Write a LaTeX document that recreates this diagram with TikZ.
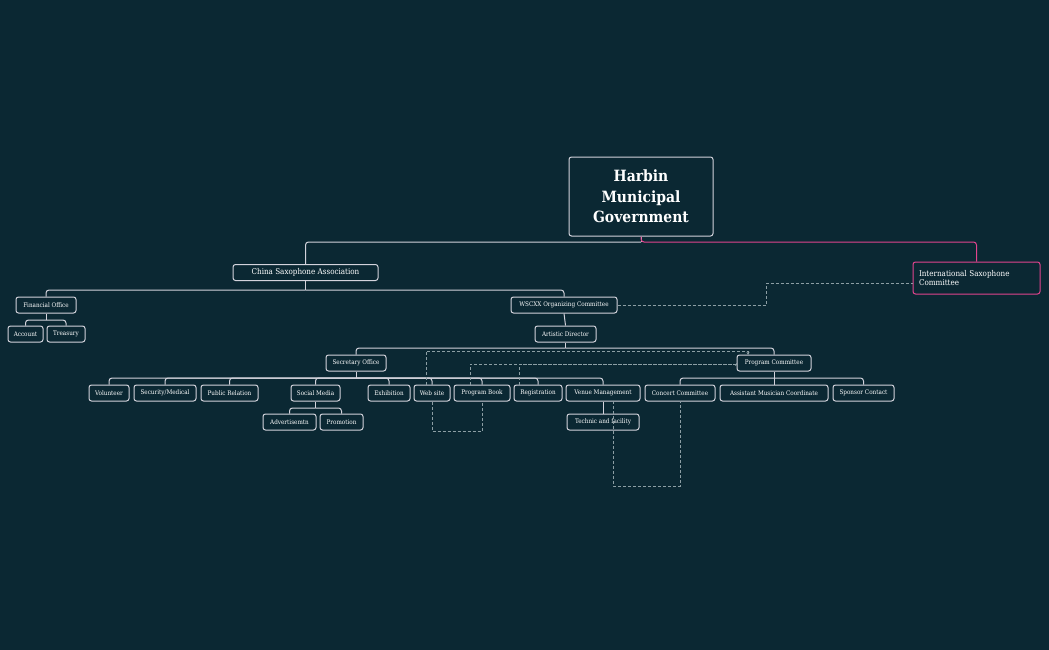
\documentclass[tikz,border=0pt]{standalone}
\usepackage{fontspec}
\setmainfont{DejaVu Serif Condensed}
\usetikzlibrary{arrows.meta}
\definecolor{bg}{HTML}{0B2833}
\definecolor{ln}{HTML}{D3D3DC}
\definecolor{pk}{HTML}{E2448E}
\definecolor{ds}{HTML}{8C9EA4}
\tikzset{
 box/.style={draw=ln, line width=1pt, rounded corners=2.5pt, fill=bg, text=white, inner sep=0pt, font=\fontsize{6.3}{7}\selectfont},
 edge/.style={draw=ln, line width=1pt, rounded corners=3pt},
 dashln/.style={draw=ds, line width=0.8pt, dash pattern=on 3pt off 2pt},
}
\newcommand{\bx}[6][]{\node[box,#1, minimum width=#5pt, minimum height=16pt] (#2) at (#3,#4) {#6};}
\begin{document}
\begin{tikzpicture}[x=1pt,y=-1pt]
\fill[bg] (0,0) rectangle (1049,650);
\useasboundingbox (0,0) rectangle (1049,650);
\node[box, minimum width=144pt, minimum height=79pt, align=center, font=\fontsize{15.5}{20.5}\selectfont\bfseries] (h) at (641,196.5) {Harbin\\Municipal\\Government};
\bx[minimum height=21pt, font=\fontsize{8}{9}\selectfont]{csa}{305.5}{272.5}{145}{China Saxophone Association}
\node[box, draw=pk, minimum width=127pt, minimum height=32pt, align=left, text width=115pt, font=\fontsize{8}{9.5}\selectfont] (isc) at (976.5,278) {International Saxophone\\Committee};
\bx{fin}{46}{305}{60}{Financial Office}
\bx{acc}{25.5}{334}{35}{Account}
\bx{tre}{66}{334}{38}{Treasury}
\bx{ws}{564}{305}{106}{WSCXX Organizing Committee}
\bx{ad}{565.5}{334}{61}{Artistic Director}
\bx{so}{356}{363}{60}{Secretary Office}
\bx{pc}{774}{363}{74}{Program Committee}
\bx{vol}{109}{393}{40}{Volunteer}
\bx{sec}{165}{393}{62}{Security/Medical}
\bx{pr}{229.5}{393}{57}{Public Relation}
\bx{sm}{315.5}{393}{49}{Social Media}
\bx{ex}{389}{393}{42}{Exhibition}
\bx{web}{432}{393}{36}{Web site}
\bx{pb}{482}{393}{56}{Program Book}
\bx{reg}{538}{393}{48}{Registration}
\bx{vm}{603}{393}{74}{Venue Management}
\bx{cc}{680}{393}{70}{Concert Committee}
\bx{amc}{774}{393}{108}{Assistant Musician Coordinate}
\bx{sc}{863.5}{393}{61}{Sponsor Contact}
\bx{adv}{289.5}{422}{53}{Advertisemtn}
\bx{pro}{341.5}{422}{43}{Promotion}
\bx{tf}{603}{422}{72}{Technic and facility}
% tree edges
\draw[edge] (h.south) -- (h.south|-0,242);
\draw[edge] (h.south|-0,242) -| (csa.north);
\draw[draw=pk, line width=1pt, rounded corners=3pt] (h.south) -- (h.south|-0,242) -| (isc.north);
\draw[edge] (csa.south) -- (csa.south|-0,290);
\foreach \c in {fin,ws} \draw[edge] (csa.south|-0,290) -| (\c.north);
\draw[edge] (fin.south) -- (fin.south|-0,320);
\foreach \c in {acc,tre} \draw[edge] (fin.south|-0,320) -| (\c.north);
\draw[edge] (ws.south) -- (ad.north);
\draw[edge] (ad.south) -- (ad.south|-0,348);
\foreach \c in {so,pc} \draw[edge] (ad.south|-0,348) -| (\c.north);
\draw[edge] (so.south) -- (so.south|-0,378);
\foreach \c in {vol,sec,pr,sm,ex,web,pb,reg,vm} \draw[edge] (so.south|-0,378) -| (\c.north);
\draw[edge] (pc.south) -- (pc.south|-0,378);
\foreach \c in {cc,amc,sc} \draw[edge] (pc.south|-0,378) -| (\c.north);
\draw[edge] (sm.south) -- (sm.south|-0,408);
\foreach \c in {adv,pro} \draw[edge] (sm.south|-0,408) -| (\c.north);
\draw[edge] (vm.south) -- (tf.north);
% dashed relations
\draw[dashln] (ws.east) -| (766,283) -- (isc.west|-0,283);
\draw[dashln] (web.south) -- (432,431) -| (pb.south);
\draw[dashln,-{Stealth[length=3pt,width=3pt]}] (426,385) |- (748,351) -- (748,355);
\draw[dashln,-{Stealth[length=3pt,width=3pt]}] (470,385) |- (pc.west|-0,364) -- (pc.west);
\draw[dashln] (519,385) |- (737,364);
\draw[dashln] (613,401) -- (613,486) -| (cc.south);
\end{tikzpicture}
\end{document}
